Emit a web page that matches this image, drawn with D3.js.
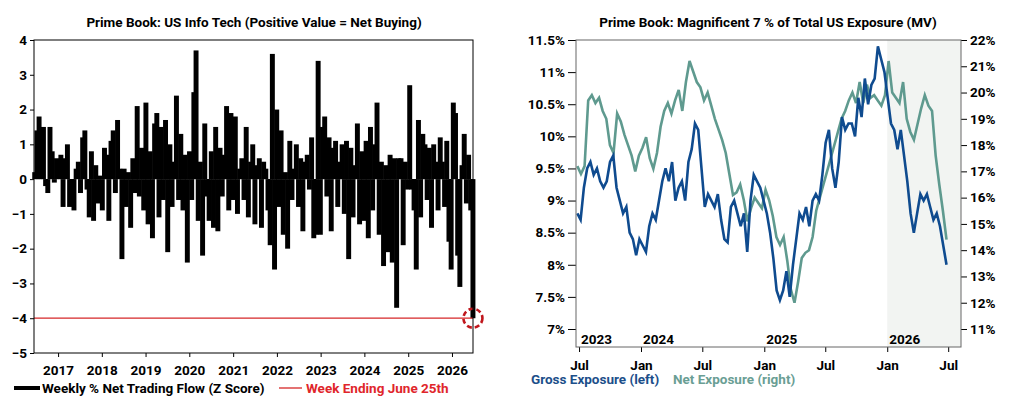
<!DOCTYPE html>
<html><head><meta charset="utf-8">
<script src="https://cdn.jsdelivr.net/npm/d3@7"></script>
<style>body{margin:0;background:#fff}text{font-family:"Liberation Sans Narrow","Roboto",sans-serif;font-weight:bold}</style>
</head><body>
<script>
// weekly net trading flow z-scores, mid 2016 to June 2026 (roughly biweekly)
var flowValues = [
0.2,1.4,1.8,0.9,1.5,-0.2,-0.4,1.5,0.8,-0.1,
0.6,0.3,0.7,-0.8,0.6,1.0,-0.8,-0.6,-0.9,0.3,0.5,-0.4,1.2,1.4,-0.3,-1.1,0.8,-1.2,0.4,-0.7,
0.1,-0.9,0.9,0.7,-1.2,1.1,1.4,-0.4,1.7,0.3,-2.3,0.3,-0.8,0.2,-1.4,0.6,-0.4,2.1,-0.5,0.9,
-0.9,2.2,-1.3,0.8,-1.7,1.6,1.9,-1.1,1.5,-0.6,1.7,-2.1,1.0,-0.8,0.5,2.4,-0.6,1.3,-0.9,0.7,
-2.4,0.8,-0.6,2.5,3.7,-1.2,0.5,-2.2,1.6,-0.5,-1.2,0.8,-1.4,1.5,-1.5,0.9,-0.5,0.7,2.1,-0.9,
1.9,-0.6,1.8,-1.0,0.3,0.6,-0.6,1.5,-1.1,0.5,1.0,-1.3,0.4,0.6,-1.4,0.5,0.3,-0.9,-1.9,3.6,
-2.6,2.0,-0.8,1.4,-1.6,0.2,-2.0,1.1,-0.6,0.3,1.0,-0.8,0.6,-1.5,0.5,0.7,-0.3,1.2,-1.7,-1.6,
3.4,-1.6,1.5,1.8,-0.5,1.2,-1.5,0.9,1.1,-0.8,0.5,1.0,-1.0,1.1,-2.3,0.9,-1.1,0.4,1.6,-1.3,
0.8,-1.2,1.1,-1.7,1.5,-0.9,1.0,2.2,-1.6,0.5,-2.5,0.4,-2.1,0.7,-2.4,0.6,-3.7,0.6,0.6,-1.9,
0.5,-0.3,2.7,-0.3,-0.9,-2.6,1.7,-1.1,1.3,1.0,-0.6,0.9,-1.4,1.0,0.5,-0.9,1.2,0.5,-0.8,1.1,
-1.8,-2.6,2.2,1.9,-2.2,-3.1,0.4,1.3,-0.7,0.7,-0.9,-4.0];
var flowStart = new Date(2016, 5, 20), flowEnd = new Date(2026, 5, 25);
var flowTicks = d3.range(2017, 2027);
var markerValue = -4;

// Mag 7 exposure, late Jun 2023 to late Jun 2026
var grossValues = [8.8,8.7,9.2,9.5,9.6,9.4,9.5,9.3,9.2,9.3,9.6,9.7,9.2,9.0,8.8,8.9,8.5,8.4,8.15,8.4,8.3,8.2,8.6,8.8,8.7,9.0,9.3,9.5,9.3,9.6,9.0,9.2,9.3,9.0,9.6,9.8,10.2,10.1,9.5,8.9,9.1,9.0,8.9,9.1,8.7,8.4,8.35,8.9,9.0,8.8,8.6,8.8,8.2,9.0,9.4,9.3,9.2,9.0,8.8,8.5,8.1,7.6,7.45,7.6,7.9,7.5,8.0,8.4,8.8,8.7,8.9,8.6,9.0,9.1,9.0,9.4,9.9,10.1,9.5,9.2,9.6,10.3,10.1,10.2,10.2,10.0,10.6,10.3,10.9,10.5,10.8,10.9,11.4,11.2,11.0,10.6,10.2,10.1,9.8,10.1,9.7,9.3,8.8,8.5,8.8,9.1,9.0,9.1,8.9,8.7,8.8,8.6,8.3,8.0];
var netValues = [17.2,16.9,17.2,19.7,19.9,19.6,19.8,19.3,19.0,18.0,17.7,19.2,18.9,18.4,18.0,17.6,17.0,17.6,17.9,18.3,17.5,17.1,17.7,18.7,19.3,19.6,19.2,19.7,20.1,19.3,20.4,21.2,20.8,20.4,20.2,19.7,20.0,19.5,19.0,18.6,18.2,17.7,16.9,16.1,16.2,16.5,15.9,15.1,15.6,16.0,15.8,15.6,16.3,15.9,15.3,14.5,14.2,14.5,13.6,12.5,12.0,12.8,13.7,13.9,14.0,14.5,15.5,16.0,16.5,17.0,17.5,18.0,18.5,19.0,19.3,19.7,20.0,19.6,20.4,19.6,20.3,19.8,19.9,19.7,19.5,19.9,21.2,20.0,19.8,19.6,20.4,19.0,18.5,18.2,18.8,19.4,19.9,19.5,19.3,17.6,16.5,15.5,14.4];
var expStart = new Date(2023, 5, 26), expEnd = new Date(2026, 5, 26);
var leftTicks = [7, 7.5, 8, 8.5, 9, 9.5, 10, 10.5, 11, 11.5];
var rightTicks = [11, 12, 13, 14, 15, 16, 17, 18, 19, 20, 21, 22];
var yearLabels = [2023, 2024, 2025, 2026];

var svg = d3.select("body").append("svg").attr("width", 1024).attr("height", 414);

// ---------- left chart ----------
var x1 = d3.scaleTime().domain([new Date(2016, 5, 14), new Date(2026, 5, 25, 12)]).range([34, 473]);
var y1 = d3.scaleLinear().domain([-5, 4]).range([353, 40]);
var idx1 = d3.scaleTime().domain([0, flowValues.length - 1]).range([flowStart, flowEnd]);
var g1 = svg.append("g");

g1.append("text").attr("x", 254).attr("y", 27).attr("text-anchor", "middle").attr("font-size", 13.5).text("Prime Book: US Info Tech (Positive Value = Net Buying)");

g1.append("g").attr("transform", "translate(34,0)").call(d3.axisLeft(y1).tickValues(d3.range(-5, 5)).tickSize(4).tickFormat(d3.format("d")))
  .call(function(a){ a.selectAll("text").attr("font-size", 13.5).attr("fill", "#000"); a.select(".domain").remove(); });
g1.append("g").attr("transform", "translate(0,353)").call(d3.axisBottom(x1).tickValues(flowTicks.map(function(y){return new Date(y,0,1);})).tickSize(4).tickFormat(d3.timeFormat("%Y")))
  .call(function(a){ a.selectAll("text").attr("font-size", 13.5).attr("fill", "#000").attr("dy", "1.1em"); a.select(".domain").remove(); });

var bw = 2 * (473 - 34) / flowValues.length + 0.6;
g1.selectAll("rect.bar").data(flowValues).enter().append("rect")
  .attr("x", function(d, i){ return x1(idx1(i)) - bw / 2; })
  .attr("y", function(d){ return y1(Math.max(0, d)); })
  .attr("width", bw)
  .attr("height", function(d){ return Math.abs(y1(d) - y1(0)); })
  .attr("fill", "#000");

g1.append("line").attr("x1", 34).attr("x2", 473).attr("y1", y1(markerValue)).attr("y2", y1(markerValue)).attr("stroke", "#d62728").attr("stroke-width", 1.3);
g1.append("circle").attr("cx", x1(flowEnd)).attr("cy", y1(markerValue)).attr("r", 9.5).attr("fill", "none").attr("stroke", "#c0161c").attr("stroke-width", 2.6).attr("stroke-dasharray", "5,3");
g1.append("rect").attr("x", 34).attr("y", 40).attr("width", 439).attr("height", 313).attr("fill", "none").attr("stroke", "#000").attr("stroke-width", 1);

g1.append("line").attr("x1", 14).attr("x2", 40).attr("y1", 388).attr("y2", 388).attr("stroke", "#000").attr("stroke-width", 4);
g1.append("text").attr("x", 42).attr("y", 393).attr("font-size", 13.5).text("Weekly % Net Trading Flow (Z Score)");
g1.append("line").attr("x1", 279).attr("x2", 302).attr("y1", 388).attr("y2", 388).attr("stroke", "#d62728").attr("stroke-width", 1.3);
g1.append("text").attr("x", 306).attr("y", 393).attr("font-size", 13.5).attr("fill", "#e0262b").text("Week Ending June 25th");

// ---------- right chart ----------
var x2 = d3.scaleTime().domain([new Date(2023, 5, 22), new Date(2026, 7, 8)]).range([576, 961]);
var yl = d3.scaleLinear().domain([7, 11.5]).range([329, 40]);
var yr = d3.scaleLinear().domain([11, 22]).range([329, 40]);
var idx2g = d3.scaleTime().domain([0, grossValues.length - 1]).range([expStart, expEnd]);
var idx2n = d3.scaleTime().domain([0, netValues.length - 1]).range([expStart, expEnd]);
var g2 = svg.append("g");

g2.append("text").attr("x", 768).attr("y", 27).attr("text-anchor", "middle").attr("font-size", 13.5).text("Prime Book: Magnificent 7 % of Total US Exposure (MV)");

g2.append("rect").attr("x", x2(new Date(2026, 0, 1))).attr("y", 40).attr("width", 961 - x2(new Date(2026, 0, 1))).attr("height", 307).attr("fill", "#f2f4f2");

var pct = function(d){ return d + "%"; };
g2.append("g").attr("transform", "translate(576,0)").call(d3.axisLeft(yl).tickValues(leftTicks).tickSize(8).tickFormat(pct))
  .call(function(a){ a.selectAll("text").attr("font-size", 13.5).attr("fill", "#000"); a.select(".domain").remove(); });
g2.append("g").attr("transform", "translate(961,0)").call(d3.axisRight(yr).tickValues(rightTicks).tickSize(6).tickFormat(pct))
  .call(function(a){ a.selectAll("text").attr("font-size", 13.5).attr("fill", "#000"); a.select(".domain").remove(); });
var monthTicks = [new Date(2023,6,1), new Date(2024,0,1), new Date(2024,6,1), new Date(2025,0,1), new Date(2025,6,1), new Date(2026,0,1), new Date(2026,6,1)];
g2.append("g").attr("transform", "translate(0,347)").call(d3.axisBottom(x2).tickValues(monthTicks).tickSize(5).tickFormat(d3.timeFormat("%b")))
  .call(function(a){ a.selectAll("text").attr("font-size", 13.5).attr("fill", "#000").attr("dy", "1.1em"); a.select(".domain").remove(); });

var yearPos = [new Date(2023,6,1), new Date(2024,0,1), new Date(2025,0,1), new Date(2026,0,1)];
g2.selectAll("text.yr").data(yearLabels).enter().append("text")
  .attr("x", function(d, i){ return x2(yearPos[i]) + 2; }).attr("y", 344).attr("font-size", 13.5).text(function(d){ return d; });

g2.append("path").datum(netValues).attr("fill", "none").attr("stroke", "#5f9a8f").attr("stroke-width", 2.6)
  .attr("d", d3.line().x(function(d, i){ return x2(idx2n(i)); }).y(function(d){ return yr(d); }));
g2.append("path").datum(grossValues).attr("fill", "none").attr("stroke", "#0f4b8f").attr("stroke-width", 2.6)
  .attr("d", d3.line().x(function(d, i){ return x2(idx2g(i)); }).y(function(d){ return yl(d); }));

g2.append("rect").attr("x", 576).attr("y", 40).attr("width", 385).attr("height", 307).attr("fill", "none").attr("stroke", "#666").attr("stroke-width", 1);

g2.append("text").attr("x", 531).attr("y", 384).attr("font-size", 13.5).attr("fill", "#1c4f8a").text("Gross Exposure (left)");
g2.append("text").attr("x", 673).attr("y", 384).attr("font-size", 13.5).attr("fill", "#6a9e94").text("Net Exposure (right)");
</script>
</body></html>
